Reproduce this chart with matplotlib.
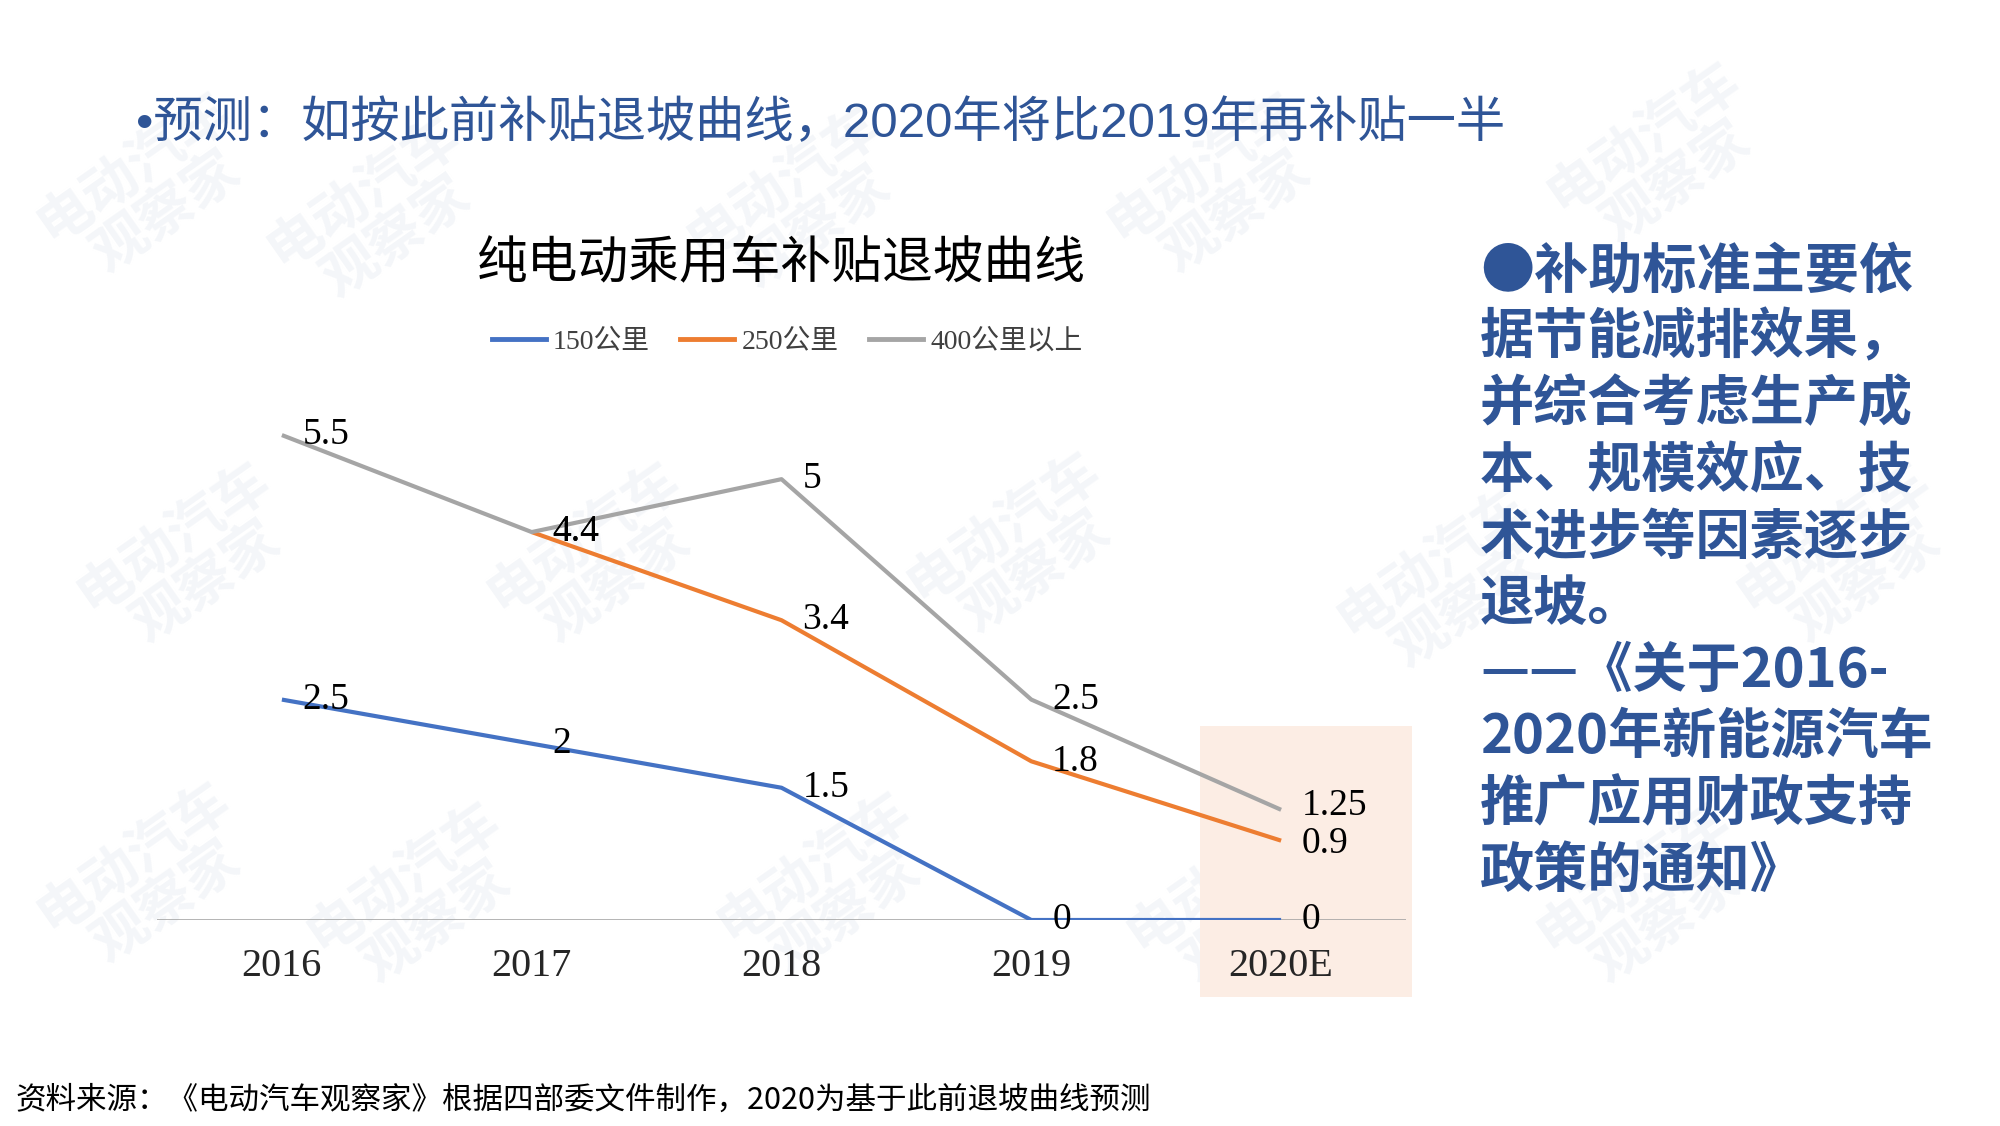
import numpy as np
import matplotlib
matplotlib.use("Agg")
import matplotlib.pyplot as plt
from matplotlib.patches import Rectangle
from matplotlib.lines import Line2D

plt.rcParams['font.family'] = ['Noto Sans CJK SC', 'DejaVu Sans']

# ---------------- data ----------------
years = ["2016", "2017", "2018", "2019", "2020E"]
series_names = ["150公里", "250公里", "400公里以上"]
s150 = [2.5, 2, 1.5, 0, 0]
s250 = [np.nan, 4.4, 3.4, 1.8, 0.9]
s400 = [5.5, 4.4, 5, 2.5, 1.25]
label_150 = ["2.5", "2", "1.5", "0", "0"]
label_250 = ["", "4.4", "3.4", "1.8", "0.9"]
label_400 = ["5.5", "4.4", "5", "2.5", "1.25"]

header = "•预测：如按此前补贴退坡曲线，2020年将比2019年再补贴一半"
chart_title = "纯电动乘用车补贴退坡曲线"
side_lines = ["●补助标准主要依", "据节能减排效果，", "并综合考虑生产成",
              "本、规模效应、技", "术进步等因素逐步", "退坡。", "——《关于2016-",
              "2020年新能源汽车", "推广应用财政支持", "政策的通知》"]
footer = "资料来源：《电动汽车观察家》根据四部委文件制作，2020为基于此前退坡曲线预测"

colors = ["#4472C4", "#ED7D31", "#A5A5A5"]
blue_txt = "#2F5597"
W, H = 2000, 1126

fig = plt.figure(figsize=(20, 11.26), dpi=100)
fig.patch.set_facecolor("white")

# faint watermarks
wm_pos = [(150, 190), (380, 215), (800, 205), (1220, 190), (1660, 160),
          (190, 560), (600, 560), (1020, 550), (1450, 585), (1850, 560),
          (150, 880), (420, 900), (830, 890), (1240, 900), (1650, 900)]
for (px, py) in wm_pos:
    fig.text(px / W, 1 - py / H, "电动汽车\n观察家", fontsize=40, color="#F4F6F9",
             rotation=35, ha="center", va="center", fontweight="bold", zorder=0,
             linespacing=1.0)

# shaded forecast region
fig.patches.append(Rectangle((1200 / W, 1 - 997 / H), 212 / W, 271 / H,
                             transform=fig.transFigure, facecolor="#FCEDE4",
                             edgecolor="none", zorder=0.5))

ax = fig.add_axes([157 / W, (H - 920) / H, 1249 / W, 529 / H])
ax.set_facecolor("none")
ax.set_zorder(2)
x = np.arange(len(years))
ax.axhline(0, color="#A0A0A0", lw=1.1, zorder=1)
for vals, c in zip([s150, s250, s400], colors):
    ax.plot(x, vals, color=c, lw=3.0, solid_capstyle="butt", zorder=3)

lab_font = dict(family=["Liberation Serif", "DejaVu Serif"], fontsize=27, color="black")
for vals, labs in [(s150, label_150), (s250, label_250), (s400, label_400)]:
    for xi, v, t in zip(x, vals, labs):
        if t and not np.isnan(v):
            dy = 3 if t == "1.25" else (-2 if t == "0.9" else 0)
            ax.annotate(t, (xi, v), xytext=(15, dy), textcoords="offset points",
                        ha="left", va="center", zorder=4, **lab_font)

ax.set_xlim(-0.5, 4.5)
ax.set_ylim(0, 6)
ax.set_xticks(x)
ax.set_xticklabels(years, family=["Liberation Serif", "DejaVu Serif"], fontsize=29, color="#262626")
ax.tick_params(axis="x", length=0, pad=20)
ax.set_yticks([])
for sp in ax.spines.values():
    sp.set_visible(False)

# chart title
fig.text(781 / W, 1 - 264 / H, chart_title, fontsize=36.5, ha="center", va="center",
         color="black", fontweight="medium")

# legend
handles = [Line2D([0], [0], color=c, lw=3.5) for c in colors]
leg = fig.legend(handles, series_names, loc="center", bbox_to_anchor=(787 / W, 1 - 342 / H),
                 ncol=3, frameon=False, handlelength=1.95, handletextpad=0.25,
                 columnspacing=1.1,
                 prop=dict(family=["Liberation Serif", "Noto Sans CJK SC"], size=20))
for t in leg.get_texts():
    t.set_color("#404040")

# header
fig.text(136 / W, 1 - 124 / H, header, fontsize=35.5, ha="left", va="center", color=blue_txt,
         family=["Liberation Sans", "Noto Sans CJK SC"])

# side text
side_y = [272, 338, 404, 472, 538, 605, 671, 737, 805, 871]
for s, yy in zip(side_lines, side_y):
    fig.text(1480 / W, 1 - yy / H, s, fontsize=39, ha="left", va="center",
             color=blue_txt, fontweight="bold")

# footer
fig.text(15 / W, 1 - 1100 / H, footer, fontsize=22, ha="left", va="center", color="black")

fig.savefig("out.png", dpi=100, facecolor="white")
